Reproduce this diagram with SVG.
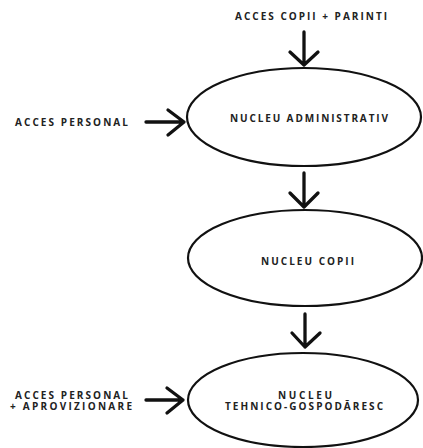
<svg xmlns="http://www.w3.org/2000/svg" width="423" height="448" viewBox="0 0 423 448">
<style>
.n{fill:none;stroke:#111;stroke-width:2.2}
.a{fill:none;stroke:#111;stroke-width:3.3;stroke-linecap:round;stroke-linejoin:round}
text{font-family:"Open Sans","DejaVu Sans",sans-serif;font-weight:700;font-size:10px;fill:#222}
</style>
<rect width="423" height="448" fill="#fff"/>
<g id="edges">
<path class="a" d="M304 32V65M290 52L304 65L318 52"/>
<path class="a" d="M304 173V207M290 193L304 207L318 193"/>
<path class="a" d="M305 314V347M292 333L305 347L320 333"/>
<path class="a" d="M146 122H184M168 110L184 122L168 135"/>
<path class="a" d="M146 400H183M167 388L183 400L167 413"/>
</g>
<g id="top-label"><text x="235" y="20" textLength="152" lengthAdjust="spacing">ACCES COPII + PARINTI</text></g>
<g id="acces-personal"><text x="15" y="126" textLength="113" lengthAdjust="spacing">ACCES PERSONAL</text></g>
<g id="nucleu-administrativ">
<ellipse class="n" cx="304" cy="117" rx="117" ry="49"/>
<text x="230" y="122" textLength="158" lengthAdjust="spacing">NUCLEU ADMINISTRATIV</text>
</g>
<g id="nucleu-copii">
<ellipse class="n" cx="305" cy="258" rx="117" ry="48"/>
<text x="261" y="265" textLength="93" lengthAdjust="spacing">NUCLEU COPII</text>
</g>
<g id="acces-aprovizionare">
<text x="15" y="398.5" textLength="113" lengthAdjust="spacing">ACCES PERSONAL</text>
<text x="10" y="409.5" textLength="122" lengthAdjust="spacing">+ APROVIZIONARE</text>
</g>
<g id="nucleu-tehnico">
<ellipse class="n" cx="303" cy="400" rx="115" ry="47"/>
<text x="278" y="398.5" textLength="54" lengthAdjust="spacing">NUCLEU</text>
<text x="225" y="409.5" textLength="158" lengthAdjust="spacing">TEHNICO-GOSPODĂRESC</text>
</g>
</svg>
